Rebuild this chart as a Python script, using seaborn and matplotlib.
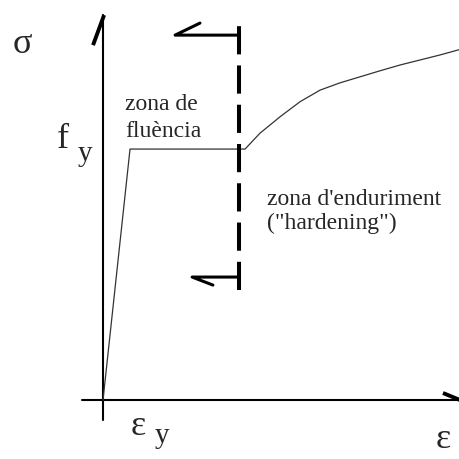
import seaborn as sns
import matplotlib
matplotlib.use('Agg')
import matplotlib.pyplot as plt

# Schematic stress-strain diagram of steel. Units: strain in multiples of
# eps_y, stress in multiples of f_y.
strain = [0.0, 1.0, 5.26, 5.81, 6.56, 7.30, 8.04, 8.78, 9.52, 10.26,
          11.0, 11.74, 12.48, 13.22]
stress = [0.0, 1.0, 1.0, 1.063, 1.129, 1.189, 1.235, 1.264, 1.288, 1.312,
          1.335, 1.355, 1.375, 1.397]

# axes extents
x_axis_strain = [-0.78, 13.22]
y_axis_stress = [-0.08, 1.534]
y_arrow_strain = [-0.37, 0.04]
y_arrow_stress = [1.414, 1.534]
x_arrow_strain = [12.59, 13.22]
x_arrow_stress = [0.028, 0.0]

# boundary between yielding and hardening zones
limit_strain = 5.04
limit_stress = [0.438, 1.494]
top_cap_strain = [3.59, 2.67, 5.04]
top_cap_stress = [1.502, 1.454, 1.454]
bot_cap_strain = [4.07, 3.30, 5.04]
bot_cap_stress = [0.458, 0.490, 0.490]

sns.set_style('white')
plt.rcParams['font.family'] = ['Liberation Serif', 'DejaVu Serif']

fig = plt.figure(figsize=(4.6, 4.59), dpi=100)
ax = fig.add_axes([0, 0, 1, 1])
ax.set_xlim(-3.815, 13.22)
ax.set_ylim(-0.235, 1.594)
ax.axis('off')

# coordinate axes
ax.plot(x_axis_strain, [0, 0], color='black', lw=1.5)
ax.plot([0, 0], y_axis_stress, color='black', lw=1.5)
ax.plot(y_arrow_strain, y_arrow_stress, color='black', lw=2.8,
        solid_capstyle='butt')
ax.plot(x_arrow_strain, x_arrow_stress, color='black', lw=2.8,
        solid_capstyle='butt')

# stress-strain curve
sns.lineplot(x=strain, y=stress, sort=False, color='#333333', lw=0.9,
             ax=ax)

# dashed zone limit with its caps
ax.plot([limit_strain, limit_strain], limit_stress, color='black', lw=2.9,
        linestyle=(0, (7, 2.75)))
ax.plot(top_cap_strain, top_cap_stress, color='black', lw=2.2)
ax.plot(bot_cap_strain, bot_cap_stress, color='black', lw=2.2)

big = 26
sub = 21
small = 17
ax.text(-3.33, 1.382, 'σ', fontsize=big, va='baseline')
ax.text(-1.70, 1.004, 'f', fontsize=big, va='baseline')
ax.text(-0.93, 0.952, 'y', fontsize=sub, va='baseline')
ax.text(1.04, -0.139, 'ε', fontsize=big, va='baseline')
ax.text(1.93, -0.171, 'y', fontsize=sub, va='baseline')
ax.text(12.33, -0.19, 'ε', fontsize=big, va='baseline')

ax.text(0.81, 1.155, 'zona de', fontsize=small, va='baseline')
ax.text(0.81, 1.048, 'fluència', fontsize=small, va='baseline')
ax.text(6.07, 0.777, "zona d'enduriment", fontsize=small, va='baseline')
ax.text(6.07, 0.682, '("hardening")', fontsize=small, va='baseline')

fig.savefig('out.png', dpi=100, facecolor='white')
